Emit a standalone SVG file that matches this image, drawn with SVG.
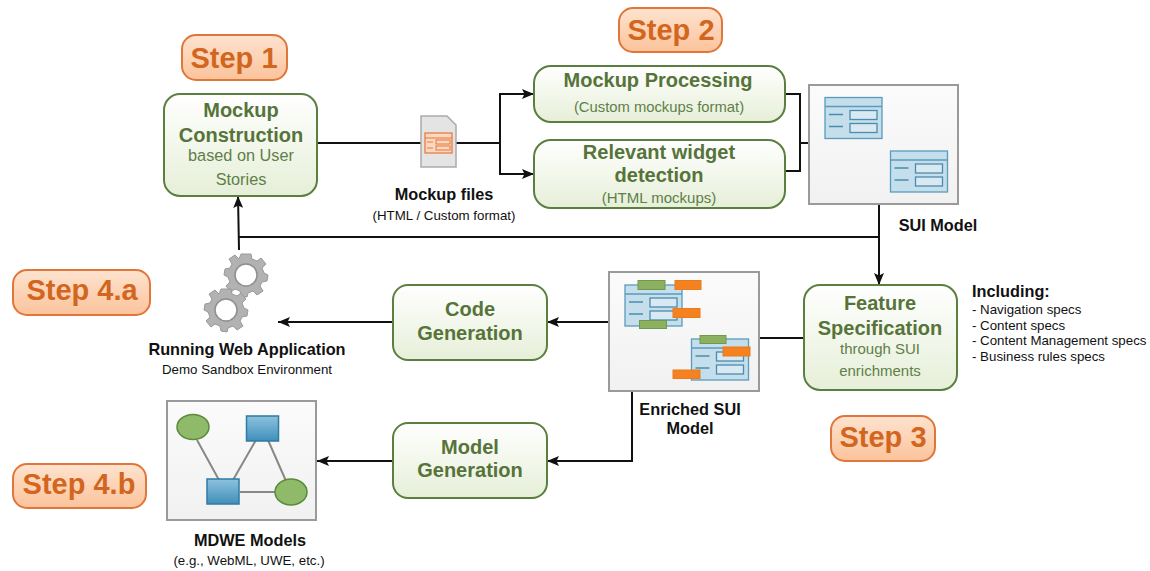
<svg xmlns="http://www.w3.org/2000/svg" width="1150" height="571" viewBox="0 0 1150 571">
<style>
text{font-family:"Liberation Sans",Arial,sans-serif;text-anchor:middle}
.n{fill:url(#gg);stroke:#5b7f3f;stroke-width:2}
.s{fill:url(#go);stroke:#e0763a;stroke-width:2}
.st{font-size:29px;font-weight:bold;fill:#d2661f}
.t{font-size:20px;font-weight:bold;fill:#56743a}
.u{font-size:16.3px;fill:#5f7f48}
.l{font-size:16.3px;font-weight:bold;fill:#111}
.c{font-size:13.3px;fill:#111}
.i{font-size:13.3px;fill:#111;text-anchor:start}
.f{fill:url(#gf);stroke:#9a9a9a;stroke-width:2}
.w{fill:#c5deec;stroke:#5a9abc;stroke-width:1.3}
.b{fill:#d9e9f2;stroke:#4a8cae;stroke-width:1.3}
.d{stroke:#4a8cae;stroke-width:1.5;fill:none}
.gr{fill:#8cb060;stroke:#6d9a4d;stroke-width:1}
.or{fill:#f58220;stroke:#ea7a1c;stroke-width:1}
.line{fill:none;stroke:#111;stroke-width:2}
.e{stroke:#888;stroke-width:2;fill:none}
.gear{fill:#b2b2b2;stroke:#999;stroke-width:1;stroke-linejoin:round}
.gh{fill:#fff;stroke:#8e8e8e;stroke-width:1.5}
</style>
<defs>
<linearGradient id="gg" x1="0" y1="0" x2="0" y2="1"><stop offset="0" stop-color="#fff"/><stop offset="1" stop-color="#e6efd8"/></linearGradient>
<linearGradient id="go" x1="0" y1="0" x2="0" y2="1"><stop offset="0" stop-color="#fee3cf"/><stop offset="1" stop-color="#fbc39b"/></linearGradient>
<linearGradient id="gf" x1="0" y1="0" x2="0" y2="1"><stop offset="0" stop-color="#fbfbfb"/><stop offset="1" stop-color="#f1f1f1"/></linearGradient>
<linearGradient id="gb" x1="0" y1="0" x2="0" y2="1"><stop offset="0" stop-color="#8ec2de"/><stop offset="1" stop-color="#3f8fba"/></linearGradient>
<marker id="a" markerUnits="userSpaceOnUse" markerWidth="13" markerHeight="10" refX="12" refY="5" orient="auto"><path d="M0 0L12 5L0 10L2.500 5Z" fill="#111"/></marker>
<g id="win"><rect class="w" x="0" y="0" width="57" height="41"/><path d="M0 9H57" stroke="#5a9abc" stroke-width="1.3"/><rect class="b" x="25" y="13" width="27" height="9"/><rect class="b" x="25" y="26" width="27" height="9"/><path class="d" d="M4 17H18M4 29H18"/></g>
<path id="gearshape" d="M-5 -21L5 -21L6 -16L11 -14L15 -17L20 -11L16 -7L18 -2L22 0L21 6L16 7L14 11L17 16L11 20L7 16L2 18L1 22L-5 21L-6 16L-11 14L-15 17L-20 11L-16 7L-18 2L-22 0L-21 -6L-16 -7L-14 -11L-17 -16L-11 -20L-7 -16Z"/>
</defs>

<g id="connectors">
<path class="line" d="M318 143H500"/>
<path class="line" marker-end="url(#a)" d="M500 143V94H534"/>
<path class="line" marker-end="url(#a)" d="M500 143V174H534"/>
<path class="line" d="M785 94H800V171H785M800 143H809"/>
<path class="line" d="M879 204V237"/>
<path class="line" d="M879 237H239"/>
<path class="line" marker-end="url(#a)" d="M239 250L238 196"/>
<path class="line" marker-end="url(#a)" d="M879 237V285"/>
<path class="line" d="M759 338H803"/>
<path class="line" marker-end="url(#a)" d="M609 322H547"/>
<path class="line" marker-end="url(#a)" d="M393 322H278"/>
<path class="line" marker-end="url(#a)" d="M632 391V461H547"/>
<path class="line" marker-end="url(#a)" d="M393 461H317"/>
</g>

<g id="step1"><rect class="s" x="182" y="35" width="105" height="45" rx="14"/><text class="st" x="234" y="68">Step 1</text></g>
<g id="step2"><rect class="s" x="619" y="8" width="103" height="44" rx="14"/><text class="st" x="671" y="40">Step 2</text></g>
<g id="step3"><rect class="s" x="831" y="416" width="104" height="45" rx="14"/><text class="st" x="883" y="447">Step 3</text></g>
<g id="step4a"><rect class="s" x="13" y="270" width="137" height="45" rx="14"/><text class="st" x="82" y="300">Step 4.a</text></g>
<g id="step4b"><rect class="s" x="13" y="464" width="133" height="44" rx="14"/><text class="st" x="79" y="494">Step 4.b</text></g>

<g id="mockup-construction"><rect class="n" x="164" y="94" width="153" height="102" rx="16"/>
<text class="t" x="241" y="117">Mockup</text><text class="t" x="241" y="142">Construction</text><text class="u" x="241" y="161">based on User</text><text class="u" x="241" y="185">Stories</text></g>

<g id="mockup-files"><path d="M421 116H447L456 125V167H421Z" fill="#e4e4e4" stroke="#aaa" stroke-width="1.500"/>
<rect x="425" y="133" width="27" height="20" fill="#fbd9c0" stroke="#e8743a" stroke-width="1.200"/><path d="M425 138H452M427 142H433M427 148H433" stroke="#e8743a" stroke-width="1"/><rect x="436" y="140" width="14" height="4" fill="#fbd9c0" stroke="#e8743a"/><rect x="436" y="146" width="14" height="4" fill="#fbd9c0" stroke="#e8743a"/>
<text class="l" x="444" y="200">Mockup files</text><text class="c" x="444" y="220">(HTML / Custom format)</text></g>

<g id="mockup-processing"><rect class="n" x="534" y="66" width="251" height="56" rx="17"/>
<text class="t" x="658" y="87">Mockup Processing</text><text class="u" x="659" y="112" style="font-size:14.800px">(Custom mockups format)</text></g>

<g id="widget-detection"><rect class="n" x="534" y="140" width="251" height="68" rx="17"/>
<text class="t" x="659" y="159">Relevant widget</text><text class="t" x="659" y="182">detection</text><text class="u" x="659" y="203" style="font-size:15px">(HTML mockups)</text></g>

<g id="sui-model"><rect class="f" x="809" y="85" width="149" height="119"/>
<use href="#win" x="825" y="97.500"/><use href="#win" x="890.500" y="151"/>
<text class="l" x="938" y="231">SUI Model</text></g>

<g id="feature-spec"><rect class="n" x="804" y="285" width="153" height="105" rx="16"/>
<text class="t" x="880" y="310">Feature</text><text class="t" x="880" y="335">Specification</text><text class="u" x="880" y="354" style="font-size:15px">through SUI</text><text class="u" x="880" y="376" style="font-size:15px">enrichments</text></g>

<g id="including"><text class="l" x="972" y="297" style="text-anchor:start">Including:</text>
<text class="i" x="972" y="314">- Navigation specs</text><text class="i" x="972" y="330">- Content specs</text><text class="i" x="972" y="345">- Content Management specs</text><text class="i" x="972" y="361">- Business rules specs</text></g>

<g id="enriched-sui"><rect class="f" x="609" y="272" width="150" height="119"/>
<use href="#win" x="625" y="285"/><use href="#win" x="691.500" y="339"/>
<rect class="gr" x="638" y="280.500" width="27" height="9"/><rect class="or" x="675" y="280.500" width="26" height="9"/><rect class="or" x="673" y="308.500" width="27" height="9"/><rect class="gr" x="639.500" y="320.500" width="27" height="8"/>
<rect class="gr" x="700" y="335.500" width="26" height="8"/><rect class="or" x="723" y="347" width="27" height="9"/><rect class="or" x="673" y="370" width="27" height="8.500"/>
<text class="l" x="690" y="415">Enriched SUI</text><text class="l" x="690" y="434">Model</text></g>

<g id="code-generation"><rect class="n" x="393" y="285" width="154" height="75" rx="15"/>
<text class="t" x="470" y="316">Code</text><text class="t" x="470" y="340">Generation</text></g>

<g id="model-generation"><rect class="n" x="393" y="423" width="154" height="75" rx="15"/>
<text class="t" x="470" y="454">Model</text><text class="t" x="470" y="477">Generation</text></g>

<g id="running-app">
<use href="#gearshape" class="gear" x="246" y="275"/><circle class="gh" cx="246" cy="275" r="11"/>
<use href="#gearshape" class="gear" x="226" y="310"/><circle class="gh" cx="226" cy="310" r="11"/>
<text class="l" x="247" y="355">Running Web Application</text><text class="c" x="247" y="374">Demo Sandbox Environment</text></g>

<g id="mdwe-models"><rect class="f" x="167" y="401" width="149" height="119"/>
<path class="e" d="M197 440L219 480M233 480L256 440M268 440L286 481M240 492H276"/>
<ellipse cx="193" cy="427" rx="16" ry="12.500" fill="#8fba6a" stroke="#5b8a3c" stroke-width="1.500"/>
<rect x="246.500" y="416" width="32" height="25" fill="url(#gb)" stroke="#2f7ba3" stroke-width="1.500"/>
<rect x="207" y="479" width="32" height="25" fill="url(#gb)" stroke="#2f7ba3" stroke-width="1.500"/>
<ellipse cx="291" cy="492" rx="16" ry="13" fill="#8fba6a" stroke="#5b8a3c" stroke-width="1.500"/>
<text class="l" x="250" y="546">MDWE Models</text><text class="c" x="249" y="565">(e.g., WebML, UWE, etc.)</text></g>
</svg>
